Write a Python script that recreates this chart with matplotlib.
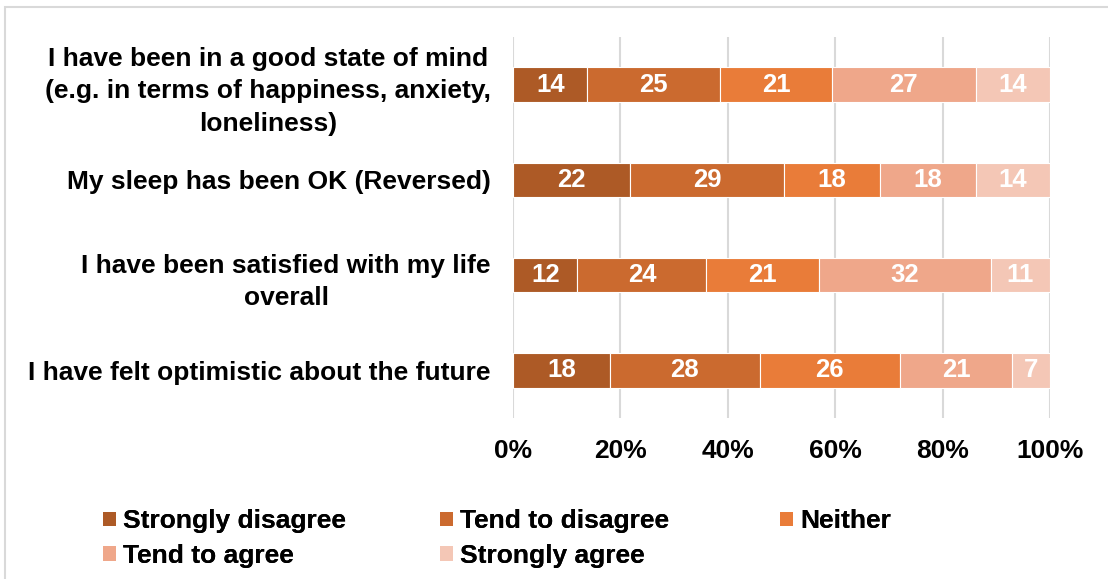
import matplotlib
matplotlib.use("Agg")
import matplotlib.pyplot as plt
from matplotlib.patches import Rectangle, Patch
from matplotlib.transforms import ScaledTranslation

plt.rcParams['font.family'] = ['Liberation Sans', 'DejaVu Sans']

categories = [
    "I have been in a good state of mind\n(e.g. in terms of happiness, anxiety,\nloneliness)",
    "My sleep has been OK (Reversed)",
    "I have been satisfied with my life\noverall",
    "I have felt optimistic about the future",
]
series_names = ["Strongly disagree", "Tend to disagree", "Neither",
                "Tend to agree", "Strongly agree"]
strongly_disagree = [14, 22, 12, 18]
tend_to_disagree = [25, 29, 24, 28]
neither = [21, 18, 21, 26]
tend_to_agree = [27, 18, 32, 21]
strongly_agree = [14, 14, 11, 7]
xtick_labels = ["0%", "20%", "40%", "60%", "80%", "100%"]

colors = ["#AD5A26", "#CB6A2F", "#E97C39", "#EFA78A", "#F4C7B6"]
series = [strongly_disagree, tend_to_disagree, neither, tend_to_agree, strongly_agree]

FS = 19

fig = plt.figure(figsize=(11.08, 5.79), dpi=100)
ax = fig.add_axes([513 / 1108, 1 - 418 / 579, (1050 - 513) / 1108, (418 - 37) / 579])

n = len(categories)
ypos = list(range(n))
totals = [sum(s[i] for s in series) for i in range(n)]
left = [0.0] * n
for vals, col in zip(series, colors):
    widths = [v / t * 100 for v, t in zip(vals, totals)]
    bars = ax.barh(ypos, widths, left=left, height=0.36, color=col,
                   edgecolor="white", linewidth=0.8, zorder=3)
    for b, v in zip(bars, vals):
        ax.text(b.get_x() + b.get_width() / 2, b.get_y() + b.get_height() / 2,
                str(v), ha="center", va="center", color="white",
                fontsize=18.5, fontweight="bold", zorder=4)
    left = [l + w for l, w in zip(left, widths)]

ax.set_xlim(0, 100)
ax.set_ylim(n - 0.5, -0.5)
ax.set_xticks([0, 20, 40, 60, 80, 100])
ax.set_xticklabels(xtick_labels, fontsize=FS, fontweight="bold")
ax.set_yticks(ypos)
ax.set_yticklabels(categories, fontsize=FS, fontweight="bold", ha="right",
                   multialignment="center", linespacing=1.45)
# nudge wrapped labels up a little so their block sits on the bar centre
for lbl in ax.get_yticklabels():
    if "\n" in lbl.get_text():
        lbl.set_transform(lbl.get_transform() +
                          ScaledTranslation(0, 5 / 100, fig.dpi_scale_trans))
ax.tick_params(axis="both", length=0)
ax.tick_params(axis="x", pad=15)
ax.tick_params(axis="y", pad=16)
ax.grid(axis="x", color="#D9D9D9", linewidth=1.5, zorder=0)
for s in ax.spines.values():
    s.set_visible(False)

# outer frame
frame = Rectangle((5 / 1108, -0.05), 1.2, 1 - 7 / 579 + 0.05,
                  transform=fig.transFigure, fill=False,
                  edgecolor="#D9D9D9", linewidth=1.5)
fig.add_artist(frame)

# legend laid out row by row: one legend per column
handles = [Patch(facecolor=c, label=l) for c, l in zip(colors, series_names)]
columns = [([0, 3], 85), ([1, 4], 422), ([2], 762)]
for idx, x0 in columns:
    leg = fig.legend([handles[i] for i in idx], [series_names[i] for i in idx],
                     ncol=1, loc="upper left",
                     bbox_to_anchor=(x0 / 1108, 1 - 491 / 579),
                     frameon=False, prop={"size": FS, "weight": "bold"},
                     handlelength=0.48, handleheight=0.48, handletextpad=0.27,
                     labelspacing=0.4, borderpad=0.2)
    fig.add_artist(leg)

fig.savefig("out.png", dpi=100)
